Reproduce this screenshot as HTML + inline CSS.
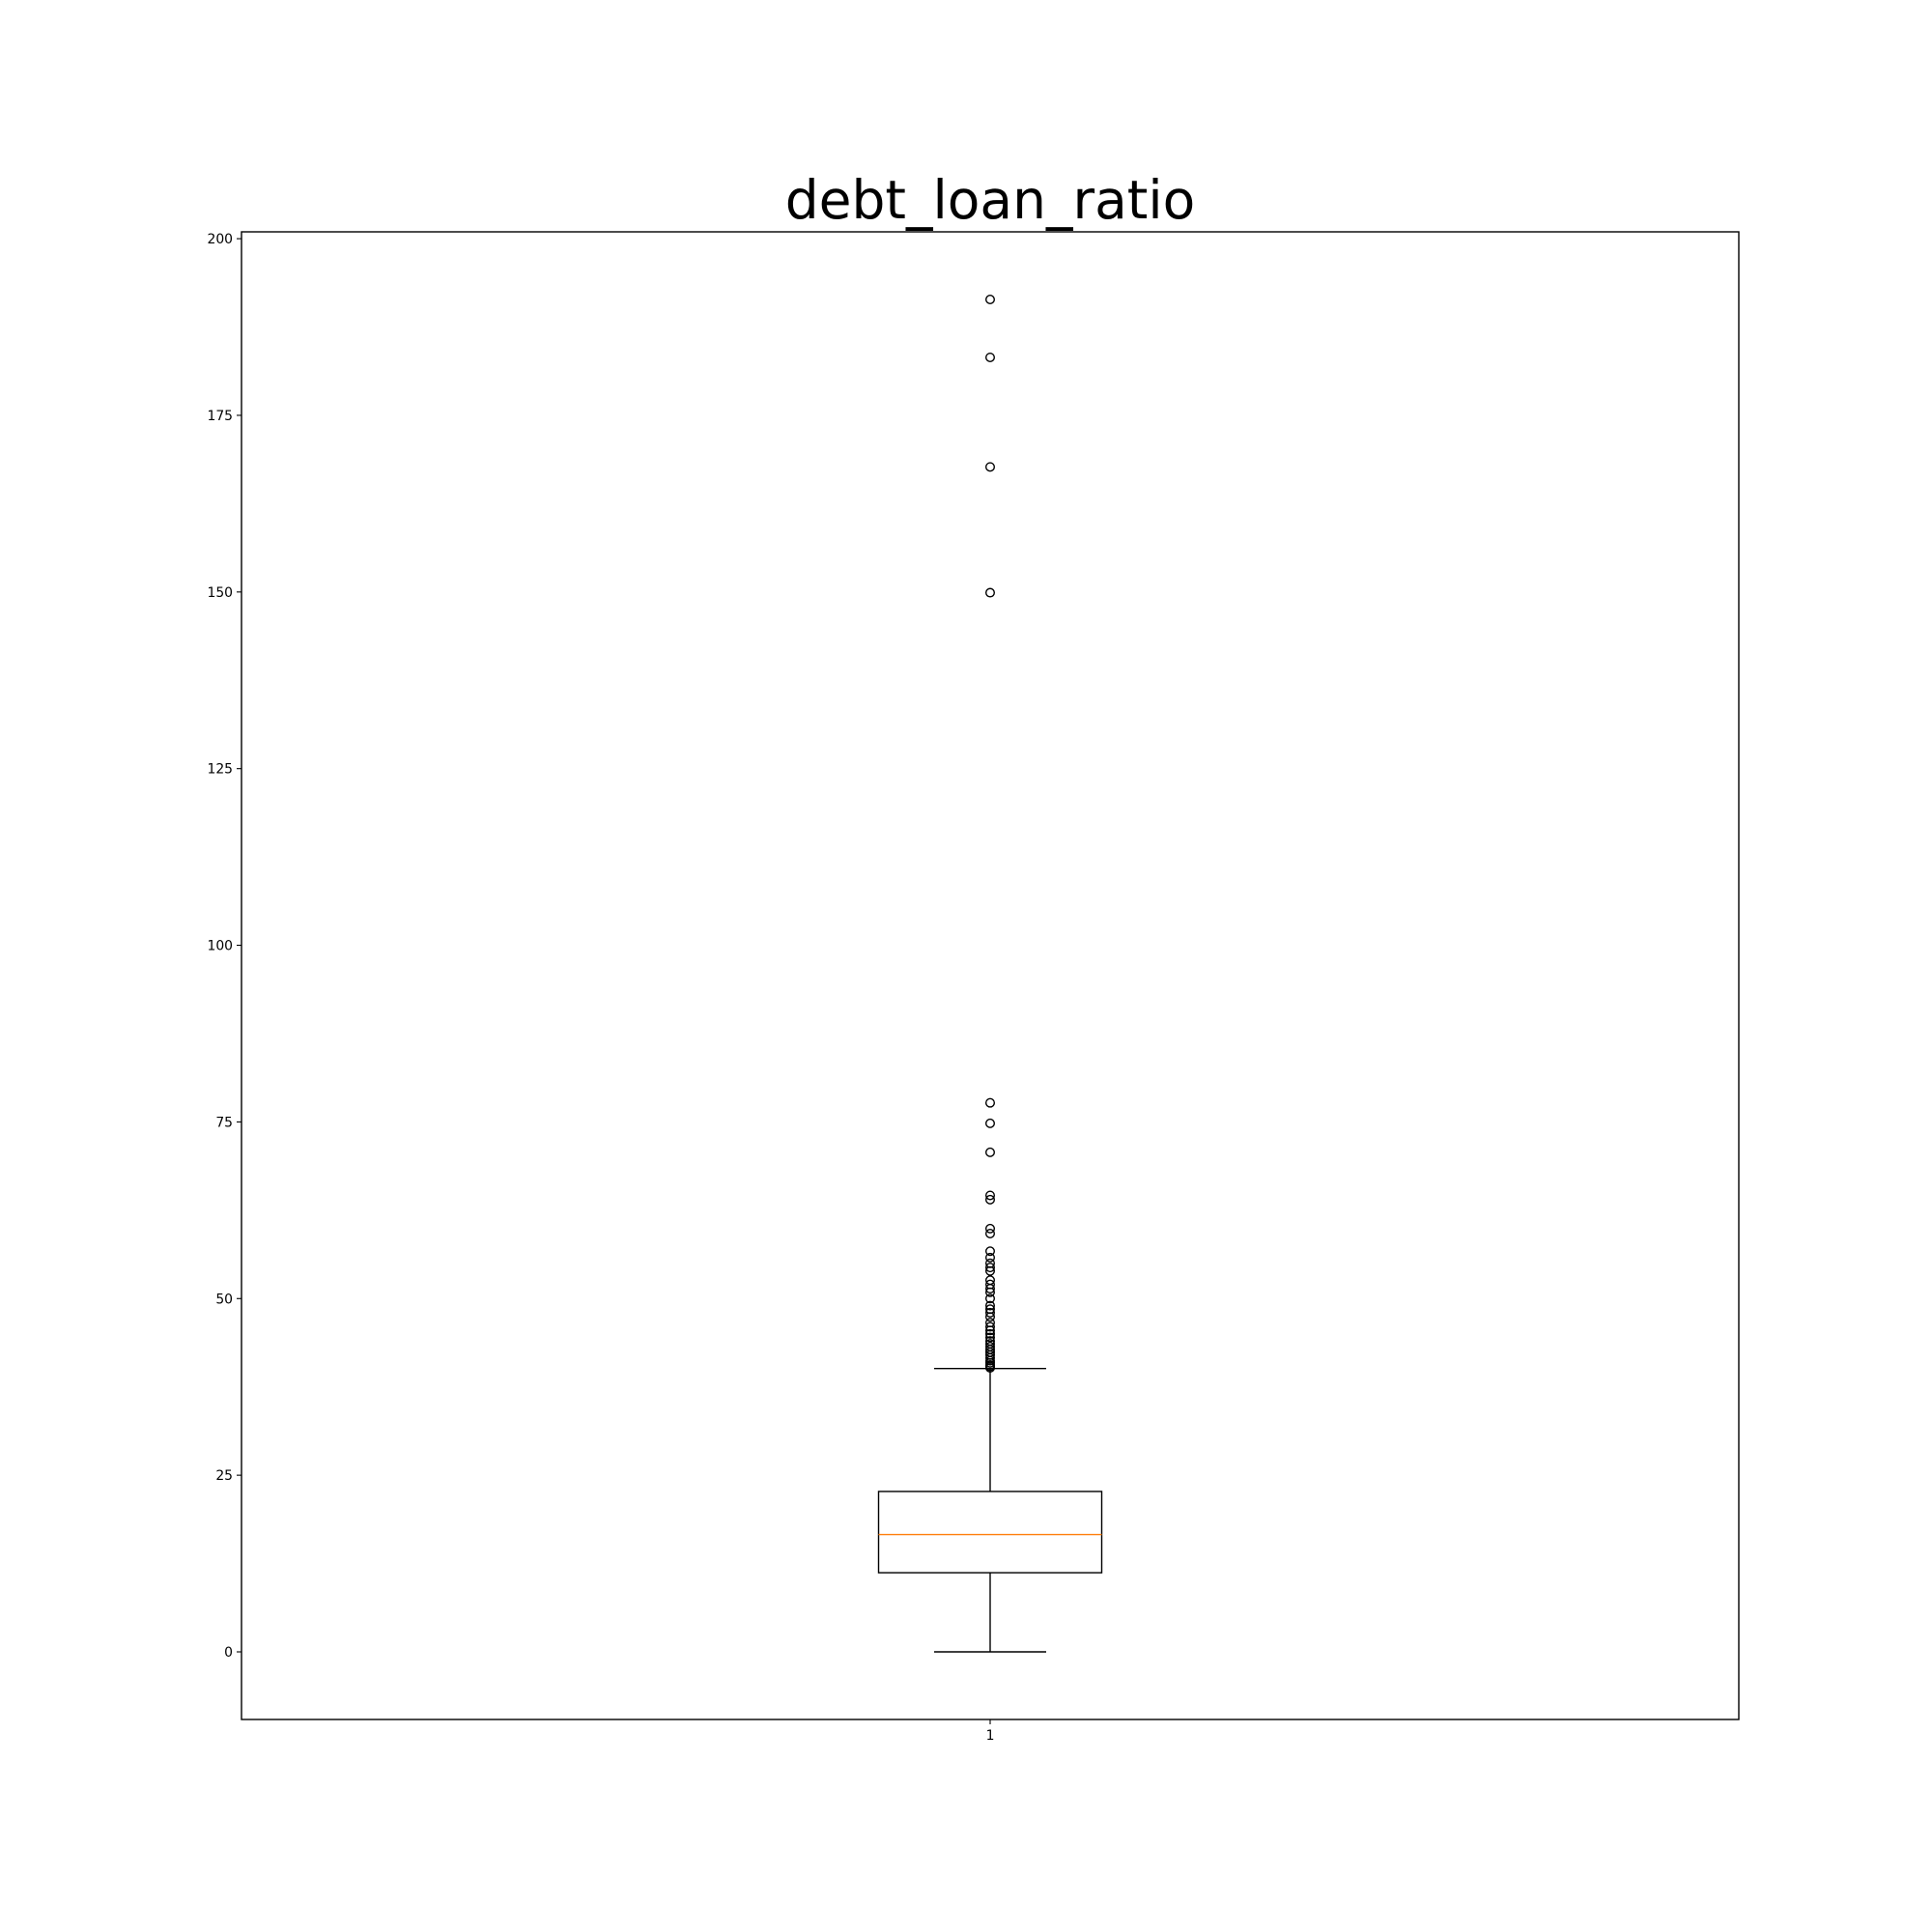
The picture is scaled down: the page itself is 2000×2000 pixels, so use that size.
<!DOCTYPE html>
<html><head><meta charset="utf-8"><style>
html,body{margin:0;padding:0;background:#fff}
svg{display:block;font-family:"DejaVu Sans","Liberation Sans",sans-serif}
</style></head><body>
<svg id="chart" width="2000" height="2000" viewBox="0 0 2000 2000">
<rect x="0" y="0" width="2000" height="2000" fill="#fff"/>
<text x="1025" y="226" font-size="55" text-anchor="middle" fill="#000">debt_loan_ratio</text>
<g id="plot"></g>
<rect x="250" y="240" width="1550" height="1540" fill="none" stroke="#000" stroke-width="1.4"/>
</svg>
<script>
const categories = ["1"];
const yTicks = [0, 25, 50, 75, 100, 125, 150, 175, 200];
const q1 = [11.2];
const median = [16.6];
const q3 = [22.7];
const whiskerLow = [0];
const whiskerHigh = [40.1];
const outliers = [191.4, 183.2, 167.7, 149.9, 77.7, 74.8, 70.7, 64.6, 64.0, 59.9, 59.2, 56.7, 55.8, 55.0, 54.4, 53.9, 52.6, 52.0, 51.4, 50.9, 50.0, 49.0, 48.5, 48.0, 47.4, 46.6, 46.0, 45.5, 45.0, 44.5, 44.0, 43.6, 43.2, 42.8, 42.4, 42.0, 41.6, 41.2, 40.9, 40.6, 40.4, 40.2];

const NS = "http://www.w3.org/2000/svg";
const L = 250, R = 1800, T = 240, B = 1780;
const yMin = -9.57, yMax = 200.97;
function y(v){ return B - (v - yMin) / (yMax - yMin) * (B - T); }
function x(i){ return L + (i + 0.5) / categories.length * (R - L); }
const plot = document.getElementById("plot");
function mk(tag, attrs){ const e = document.createElementNS(NS, tag); for (const k in attrs) e.setAttribute(k, attrs[k]); plot.appendChild(e); return e; }

yTicks.forEach(t => {
  const tk = mk("line", {x1: L - 5, x2: L, y1: y(t), y2: y(t), stroke: "#000", "stroke-width": 1.1});
  
  
  const lb = mk("text", {x: L - 9, y: y(t) + 5, "font-size": 13.9, "text-anchor": "end", fill: "#000"});
  lb.textContent = t;
  
  
});

categories.forEach((c, i) => {
  const cx = x(i), hw = 115.5, cw = 58;
  const tk = mk("line", {x1: cx, x2: cx, y1: B, y2: B + 5, stroke: "#000", "stroke-width": 1.1});
  
  
  const lb = mk("text", {x: cx, y: B + 21, "font-size": 13.9, "text-anchor": "middle", fill: "#000"});
  lb.textContent = c;
  
  

  const w1 = mk("line", {x1: cx, x2: cx, y1: y(q3[i]), y2: y(whiskerHigh[i]), stroke: "#000", "stroke-width": 1.4});
  
  
  const w2 = mk("line", {x1: cx, x2: cx, y1: y(q1[i]), y2: y(whiskerLow[i]), stroke: "#000", "stroke-width": 1.4});
  
  
  const c1 = mk("line", {x1: cx - cw, x2: cx + cw, y1: y(whiskerHigh[i]), y2: y(whiskerHigh[i]), stroke: "#000", "stroke-width": 1.4});
  
  
  const c2 = mk("line", {x1: cx - cw, x2: cx + cw, y1: y(whiskerLow[i]), y2: y(whiskerLow[i]), stroke: "#000", "stroke-width": 1.4});
  
  
  const bx = mk("rect", {x: cx - hw, y: y(q3[i]), width: 2 * hw, height: y(q1[i]) - y(q3[i]), fill: "none", stroke: "#000", "stroke-width": 1.4});
  
  
  const md = mk("line", {x1: cx - hw, x2: cx + hw, y1: y(median[i]), y2: y(median[i]), stroke: "#ff7f0e", "stroke-width": 1.4});
  
  
  outliers.forEach(v => {
    const p = mk("circle", {cx: cx, cy: y(v), r: 4.3, fill: "none", stroke: "#000", "stroke-width": 1.4});
    
    
  });
});
</script>
</body></html>
